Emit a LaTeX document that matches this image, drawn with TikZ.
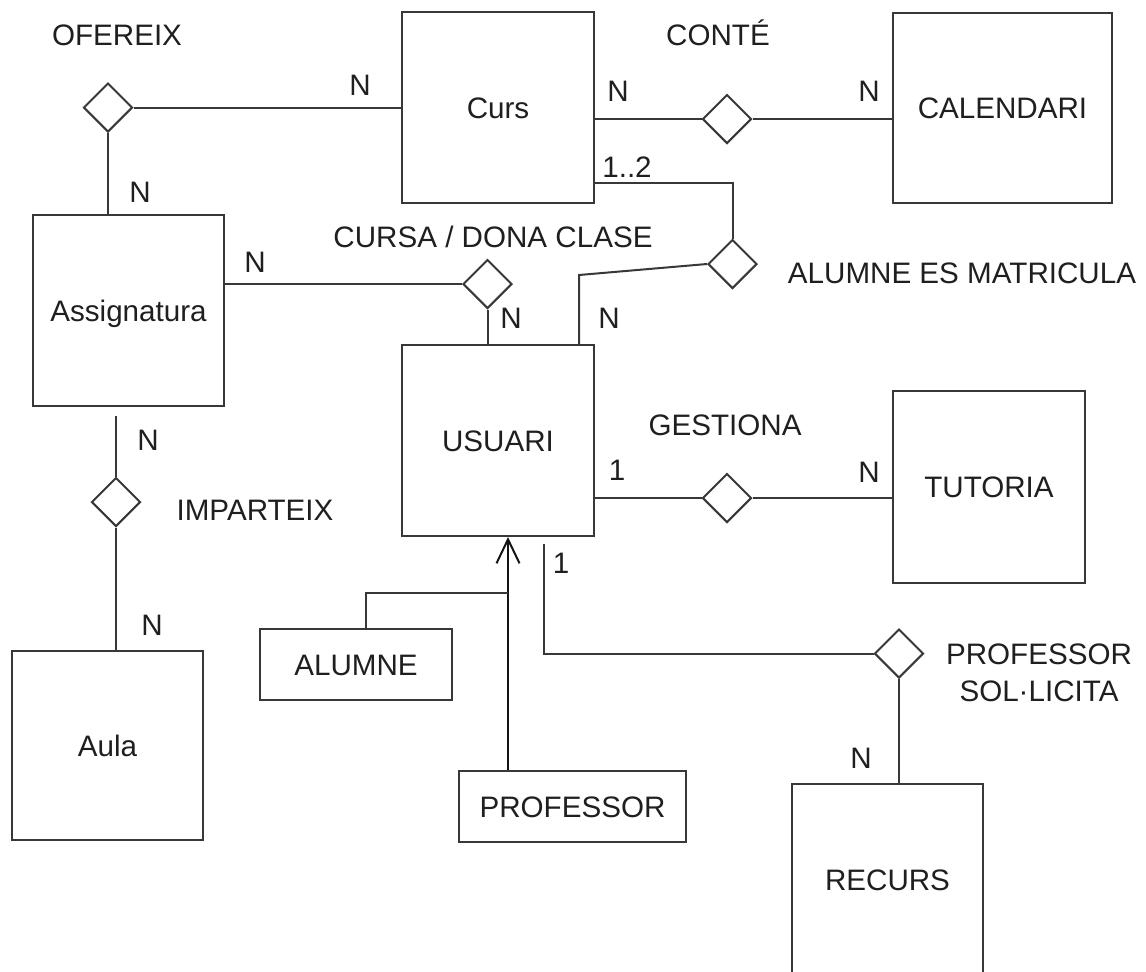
\documentclass[tikz,border=0pt]{standalone}
\usepackage{fontspec}
\setmainfont{Liberation Sans}
\usetikzlibrary{shapes.geometric, arrows.meta}

\begin{document}
\begin{tikzpicture}[x=0.5pt, y=-0.5pt,
  line width=1pt,
  every node/.style={font=\fontsize{14.8pt}{18.5pt}\selectfont, text=black!88},
  entity/.style={draw=black!78, rectangle, inner sep=0pt, text height=10.6pt, text depth=0pt},
  rel/.style={draw=black!78, diamond, minimum width=24.5pt, minimum height=24.5pt, inner sep=0pt},
  card/.style={anchor=base, inner sep=0pt},
  link/.style={draw=black!78},
  isaline/.style={draw=black!92}
]
% page frame
\clip (0,0) rectangle (1146,971);
\fill[white] (0,0) rectangle (1146,971);

% entities
\node[entity, minimum width=96pt,    minimum height=95.5pt] (curs) at (498,107.5)   {Curs};
\node[entity, minimum width=109.5pt, minimum height=95pt]   (cal)  at (1002.5,108)  {CALENDARI};
\node[entity, minimum width=95.5pt,  minimum height=95.5pt] (asig) at (128.5,310.5) {Assignatura};
\node[entity, minimum width=96pt,    minimum height=95.5pt] (usu)  at (498,440.5)   {USUARI};
\node[entity, minimum width=96pt,    minimum height=96pt]   (tut)  at (989,487)     {TUTORIA};
\node[entity, minimum width=95.5pt,  minimum height=94.5pt] (aula) at (107.5,745.5) {Aula};
\node[entity, minimum width=96pt,    minimum height=35.5pt] (alu)  at (356,664.5)   {ALUMNE};
\node[entity, minimum width=113.5pt, minimum height=35.5pt] (prof) at (572.5,806.5) {PROFESSOR};
\node[entity, minimum width=95.5pt,  minimum height=96pt]   (rec)  at (887.5,880)   {RECURS};

% relationships
\node[rel] (ofe)  at (108,107.5) {};
\node[rel] (cont) at (727,119)   {};
\node[rel] (mat)  at (732.5,264) {};
\node[rel] (cur)  at (487.5,284) {};
\node[rel] (imp)  at (116,502)   {};
\node[rel] (ges)  at (727,498)   {};
\node[rel] (sol)  at (899,653.5) {};

% bend points of the connectors
\coordinate (k12)  at (732.5,183);
\coordinate (kmat) at (579,275);
\coordinate (kimp) at (116,416);
\coordinate (ksol) at (544,544);
\coordinate (kisa) at (508,593);
\coordinate (kalu) at (366,593);

% connectors
\draw[link] (ofe.east) -- (ofe.east -| curs.west);
\draw[link] (ofe.south) -- (ofe.south |- asig.north);
\draw[link] (cont.west -| curs.east) -- (cont.west);
\draw[link] (cont.east) -- (cont.east -| cal.west);
\draw[link] (k12 -| curs.east) -- (k12) -- (mat.north);
\draw[link] (mat.west) -- (kmat) -- (kmat |- usu.north);
\draw[link] (cur.west -| asig.east) -- (cur.west);
\draw[link] (cur.south) -- (cur.south |- usu.north);
\draw[link] (ges.west -| usu.east) -- (ges.west);
\draw[link] (ges.east) -- (ges.east -| tut.west);
\draw[link] (kimp) -- (imp.north);
\draw[link] (imp.south) -- (imp.south |- aula.north);
\draw[link] (ksol) |- (sol.west);
\draw[link] (sol.south) -- (sol.south |- rec.north);

% specialisation of USUARI
\draw[isaline, -{Straight Barb[length=12pt, width=11.5pt]}] (kisa |- prof.north) -- (kisa |- usu.south);
\draw[link] (kalu |- alu.north) -- (kalu) -- (kisa);

% relationship names
\node[card] (tofe)  at (117,45)  {OFEREIX};
\node[card] (tcont) at (718,45)  {CONTÉ};
\node[card] (tcur)  at (493,247) {CURSA / DONA CLASE};
\node[card] (tmat)  at (962,283) {ALUMNE ES MATRICULA};
\node[card] (tges)  at (725,435) {GESTIONA};
\node[card] (timp)  at (255,520) {IMPARTEIX};
\node[align=center, inner sep=0pt] (tsol) at (1039,673) {PROFESSOR\\SOL·LICITA};

% cardinalities
\node[card] (c1)  at (360,95)  {N};
\node[card] (c2)  at (140,202) {N};
\node[card] (c3)  at (618,101) {N};
\node[card] (c4)  at (869,101) {N};
\node[card] (c5)  at (627,177) {1..2};
\node[card] (c6)  at (255,272) {N};
\node[card] (c7)  at (511,328) {N};
\node[card] (c8)  at (609,328) {N};
\node[card] (c9)  at (617,480) {1};
\node[card] (c10) at (869,482) {N};
\node[card] (c11) at (148,450) {N};
\node[card] (c12) at (152,635) {N};
\node[card] (c13) at (561,573) {1};
\node[card] (c14) at (861,768) {N};
\end{tikzpicture}
\end{document}
